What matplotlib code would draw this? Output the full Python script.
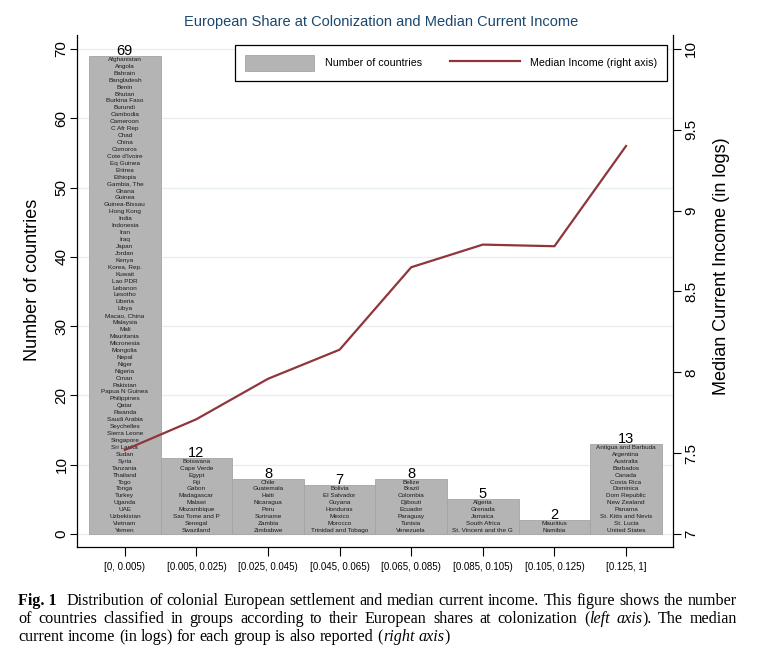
import matplotlib
matplotlib.use("Agg")
import matplotlib.pyplot as plt
from matplotlib.patches import Patch
from matplotlib.lines import Line2D

# ---------------- data ----------------
categories = ["[0, 0.005)", "[0.005, 0.025)", "[0.025, 0.045)", "[0.045, 0.065)",
              "[0.065, 0.085)", "[0.085, 0.105)", "[0.105, 0.125)", "[0.125, 1]"]
count_labels = [69, 12, 8, 7, 8, 5, 2, 13]
median_income = [7.52, 7.71, 7.96, 8.14, 8.65, 8.79, 8.78, 9.40]

countries_g1 = ["Afghanistan", "Angola", "Bahrain", "Bangladesh", "Benin", "Bhutan",
                "Burkina Faso", "Burundi", "Cambodia", "Cameroon", "C Afr Rep", "Chad",
                "China", "Comoros", "Cote d'Ivoire", "Eq Guinea", "Eritrea", "Ethiopia",
                "Gambia, The", "Ghana", "Guinea", "Guinea-Bissau", "Hong Kong", "India",
                "Indonesia", "Iran", "Iraq", "Japan", "Jordan", "Kenya", "Korea, Rep.",
                "Kuwait", "Lao PDR", "Lebanon", "Lesotho", "Liberia", "Libya",
                "Macao, China", "Malaysia", "Mali", "Mauritania", "Micronesia",
                "Mongolia", "Nepal", "Niger", "Nigeria", "Oman", "Pakistan",
                "Papua N Guinea", "Philippines", "Qatar", "Rwanda", "Saudi Arabia",
                "Seychelles", "Sierra Leone", "Singapore", "Sri Lanka", "Sudan", "Syria",
                "Tanzania", "Thailand", "Togo", "Tonga", "Turkey", "Uganda", "UAE",
                "Uzbekistan", "Vietnam", "Yemen"]
countries_g2 = ["Botswana", "Cape Verde", "Egypt", "Fiji", "Gabon", "Madagascar", "Malawi",
                "Mozambique", "Sao Tome and P", "Senegal", "Swaziland"]
countries_g3 = ["Chile", "Guatemala", "Haiti", "Nicaragua", "Peru", "Suriname", "Zambia",
                "Zimbabwe"]
countries_g4 = ["Bolivia", "El Salvador", "Guyana", "Honduras", "Mexico", "Morocco",
                "Trinidad and Tobago"]
countries_g5 = ["Belize", "Brazil", "Colombia", "Djibouti", "Ecuador", "Paraguay",
                "Tunisia", "Venezuela"]
countries_g6 = ["Algeria", "Grenada", "Jamaica", "South Africa", "St. Vincent and the G"]
countries_g7 = ["Mauritius", "Namibia"]
countries_g8 = ["Antigua and Barbuda", "Argentina", "Australia", "Barbados", "Canada",
                "Costa Rica", "Dominica", "Dom Republic", "New Zealand", "Panama",
                "St. Kitts and Nevis", "St. Lucia", "United States"]
groups = [countries_g1, countries_g2, countries_g3, countries_g4,
          countries_g5, countries_g6, countries_g7, countries_g8]

left_ticks = [0, 10, 20, 30, 40, 50, 60, 70]
right_ticks = [7, 7.5, 8, 8.5, 9, 9.5, 10]
right_tick_labels = ["7", "7.5", "8", "8.5", "9", "9.5", "10"]

title = "European Share at Colonization and Median Current Income"

# ---------------- style ----------------
SANS = "Liberation Sans"
SERIF = "Liberation Serif"
BAR_FC = "#b4b4b4"
BAR_EC = "#a4a4a4"
LINE_C = "#90353b"
TITLE_C = "#1a476f"
GRID_C = "#e6eef0"

W, H = 763, 660
fig = plt.figure(figsize=(W / 100, H / 100), dpi=100)
fig.patch.set_facecolor("white")

ax_l, ax_r, ax_b, ax_t = 77, 673, 547, 35
ax = fig.add_axes([ax_l / W, 1 - ax_b / H, (ax_r - ax_l) / W, (ax_b - ax_t) / H])

ylo, yhi = -1.88, 72.02
xs = list(range(len(categories)))
heights = [len(g) for g in groups]

ax.bar(xs, heights, width=1.0, color=BAR_FC, edgecolor=BAR_EC, linewidth=0.6, zorder=2)
ax.set_xlim(-0.668, 7.656)
ax.set_ylim(ylo, yhi)
ax.set_axisbelow(True)
ax.yaxis.grid(True, color=GRID_C, linewidth=1.0)
ax.set_yticks(left_ticks)
ax.set_yticklabels([str(t) for t in left_ticks], fontfamily=SANS, fontsize=11)
plt.setp(ax.get_yticklabels(), rotation=90, va="center")
ax.set_xticks(xs)
ax.set_xticklabels(categories, fontfamily=SANS, fontsize=7)
ax.tick_params(axis="y", direction="out", length=5, width=0.8, pad=1)
ax.tick_params(axis="x", direction="out", length=6.5, width=0.8, pad=4)
for s in ("top", "right"):
    ax.spines[s].set_visible(False)
for s in ("left", "bottom"):
    ax.spines[s].set_linewidth(0.9)
    ax.spines[s].set_color("black")
ax.set_ylabel("Number of countries", fontfamily=SANS, fontsize=13)
ax.yaxis.label.set_va("center")
ax.yaxis.set_label_coords((33 - ax_l) / (ax_r - ax_l), (ax_b - 280) / (ax_b - ax_t))

# count labels and country names
for x, h, lab, names in zip(xs, heights, count_labels, groups):
    ax.text(x, h + 0.15, str(lab), ha="center", va="baseline",
            fontfamily=SANS, fontsize=10.5, color="black", zorder=4)
    for i, nm in enumerate(names):
        ax.text(x, h - i - 0.5, nm, ha="center", va="center",
                fontfamily=SANS, fontsize=4.6, color="#1c1c1c", zorder=3)

# right axis
ax2 = ax.twinx()
ax2.set_ylim(7 + ylo * 3 / 70, 7 + yhi * 3 / 70)
ax2.plot(xs, median_income, color=LINE_C, linewidth=1.6, zorder=5)
ax2.set_yticks(right_ticks)
ax2.set_yticklabels(right_tick_labels, fontfamily=SANS, fontsize=11)
plt.setp(ax2.get_yticklabels(), rotation=90, va="center")
ax2.tick_params(axis="y", direction="out", length=5.5, width=0.8, pad=2.5)
for s in ("top", "left", "bottom"):
    ax2.spines[s].set_visible(False)
ax2.spines["right"].set_linewidth(0.9)
ax2.set_ylabel("Median Current Income (in logs)", fontfamily=SANS, fontsize=13)
ax2.yaxis.label.set_va("center")
ax2.yaxis.set_label_coords((722 - ax_l) / (ax_r - ax_l), (ax_b - 266) / (ax_b - ax_t))

# legend
handles = [Patch(facecolor=BAR_FC, edgecolor=BAR_EC, linewidth=0.6),
           Line2D([], [], color=LINE_C, linewidth=1.6)]
leg = ax2.legend(handles, ["Number of countries", "Median Income (right axis)"],
                 loc="center", bbox_to_anchor=(235 / W, 1 - 83 / H, 432 / W, 40 / H),
                 bbox_transform=fig.transFigure, mode="expand", ncol=2,
                 prop={"family": SANS, "size": 7.7}, handlelength=6.5, handleheight=1.95,
                 handletextpad=1.0, borderpad=0.9, borderaxespad=0.0,
                 fancybox=False, shadow=False, framealpha=1.0, edgecolor="black")
leg.get_frame().set_linewidth(0.9)

# title
fig.text(381.5 / W, 1 - 22 / H, title, ha="center", va="center",
         fontfamily=SANS, fontsize=10.5, color=TITLE_C)

# ---------------- caption (justified) ----------------
cap_left, cap_right = 18, 737
cap_size = 11.6
line1 = [[("Fig. 1", "b")], [("Distribution", "r")], [("of", "r")], [("colonial", "r")],
         [("European", "r")], [("settlement", "r")], [("and", "r")], [("median", "r")],
         [("current", "r")], [("income.", "r")], [("This", "r")], [("figure", "r")],
         [("shows", "r")], [("the", "r")], [("number", "r")]]
line2 = [[(w, "r")] for w in "of countries classified in groups according to their European shares at colonization".split()]
line2 += [[("(", "r"), ("left", "i")], [("axis", "i"), (").", "r")], [("The", "r")], [("median", "r")]]
line3 = [[(w, "r")] for w in "current income (in logs) for each group is also reported".split()]
line3 += [[("(", "r"), ("right", "i")], [("axis", "i"), (")", "r")]]
cap_lines = [(line1, 605, True), (line2, 623, True), (line3, 641, False)]

renderer = fig.canvas.get_renderer()


def mk(txt, style):
    kw = dict(fontfamily=SERIF, fontsize=cap_size, color="black", va="baseline", ha="left")
    if style == "b":
        kw["fontweight"] = "bold"
    if style == "i":
        kw["fontstyle"] = "italic"
    return fig.text(0, 0, txt, **kw)


probe1 = mk("a a", "r")
probe2 = mk("aa", "r")
space_w = probe1.get_window_extent(renderer).width - probe2.get_window_extent(renderer).width
probe1.remove()
probe2.remove()

for words, ypix, justify in cap_lines:
    objs = []
    total = 0.0
    for w in words:
        segs = []
        ww = 0.0
        for txt, st in w:
            t = mk(txt, st)
            wd = t.get_window_extent(renderer).width
            segs.append((t, wd))
            ww += wd
        objs.append((segs, ww))
        total += ww
    extra_first = 6.0 if words is line1 else 0.0
    if justify:
        gap = (cap_right - cap_left - total - extra_first) / (len(words) - 1)
    else:
        gap = space_w
    x = cap_left
    for k, (segs, ww) in enumerate(objs):
        xx = x
        for t, wd in segs:
            t.set_position((xx / W, 1 - ypix / H))
            xx += wd
        x += ww + gap + (extra_first if k == 0 else 0)

fig.savefig("out.png", dpi=100, facecolor="white")
